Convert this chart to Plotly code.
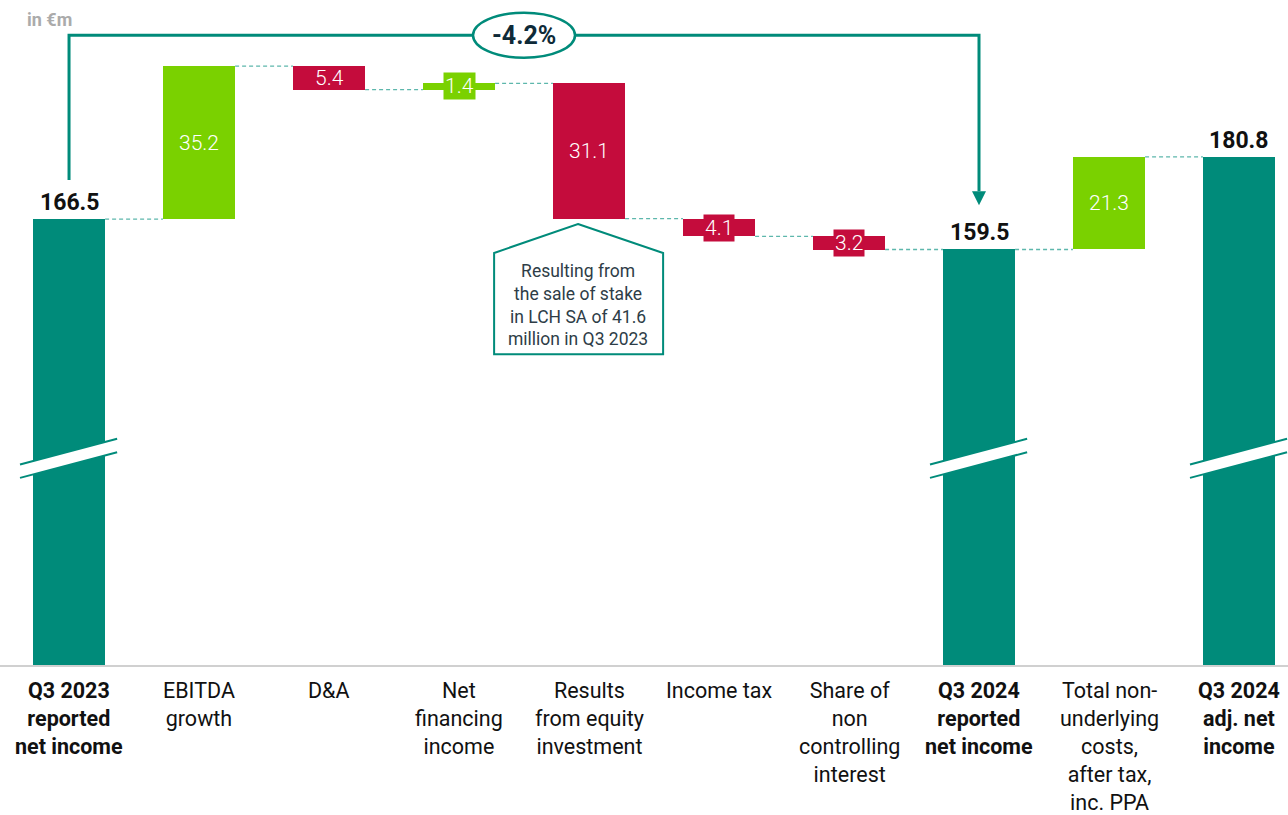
import plotly.graph_objects as go

# ---------------- data ----------------
categories = [
    "<b>Q3 2023<br>reported<br>net income</b>",
    "EBITDA<br>growth",
    "D&A",
    "Net<br>financing<br>income",
    "Results<br>from equity<br>investment",
    "Income tax",
    "Share of<br>non<br>controlling<br>interest",
    "<b>Q3 2024<br>reported<br>net income</b>",
    "Total non-<br>underlying<br>costs,<br>after tax,<br>inc. PPA",
    "<b>Q3 2024<br>adj. net<br>income</b>",
]
kinds = ["total", "delta", "delta", "delta", "delta", "delta", "delta", "total", "delta", "total"]
values = [166.5, 35.2, -5.4, 1.4, -31.1, -4.1, -3.2, 159.5, 21.3, 180.8]
change_label = "-4.2%"
callout_text = "Resulting from<br>the sale of stake<br>in LCH SA of 41.6<br>million in Q3 2023"

# ---------------- styles ----------------
TEAL = "#008B7A"
GREEN = "#7AD100"
RED = "#C40C3C"
CONN = "#5DB7AC"
FONT = "Roboto"

y_lo, y_hi = 63.9, 216.9
x_lo, x_hi = -0.531, 9.377
bar_w = 0.555
px_per_unit = 665 / (y_hi - y_lo)

xs = list(range(len(values)))
bases, heights, colors, tops_after = [], [], [], []
running = 0.0
for k, v in zip(kinds, values):
    if k == "total":
        bases.append(0)
        heights.append(v)
        colors.append(TEAL)
        running = v
    else:
        if v >= 0:
            bases.append(running)
            colors.append(GREEN)
        else:
            bases.append(running + v)
            colors.append(RED)
        heights.append(abs(v))
        running += v
    tops_after.append(running)

fig = go.Figure()
fig.add_trace(go.Bar(
    x=xs, y=heights, base=bases, width=bar_w,
    marker=dict(color=colors, line=dict(width=0)),
    hoverinfo="skip", showlegend=False,
))

shapes = []
annotations = []

# connectors
for i in range(len(values) - 1):
    lvl = tops_after[i]
    if kinds[i + 1] == "total":
        lvl = values[i + 1] if abs(values[i + 1] - lvl) < 1 else lvl
    shapes.append(dict(type="line", xref="x", yref="y",
                       x0=i + bar_w / 2, x1=i + 1 - bar_w / 2, y0=lvl, y1=lvl,
                       line=dict(color=CONN, width=1.3, dash="4px,3px"), layer="below"))

# labels
for i, (k, v) in enumerate(zip(kinds, values)):
    if k == "total":
        annotations.append(dict(x=i, y=v, xref="x", yref="y", yanchor="bottom",
                                text=f"<b>{v:.1f}</b>", showarrow=False, yshift=1,
                                font=dict(family=FONT, size=23, color="#111111")))
    else:
        mid = bases[i] + heights[i] / 2
        small = heights[i] < 5.0
        annotations.append(dict(x=i, y=mid, xref="x", yref="y",
                                text=f"{abs(v):.1f}", showarrow=False,
                                bgcolor=colors[i] if small else None,
                                borderpad=1,
                                font=dict(family=FONT, size=21, color="white", weight=300)))

# category labels
for i, c in enumerate(categories):
    annotations.append(dict(x=i, y=0, xref="x", yref="paper", yanchor="top",
                            yshift=-11, text=c, showarrow=False,
                            font=dict(family=FONT, size=21.5, color="#111111")))

# axis breaks on total bars
brk_l, brk_r, half = 108.5, 114.4, 1.55
for i, k in enumerate(kinds):
    if k != "total":
        continue
    xl, xr = i - 0.377, i + 0.37
    shapes.append(dict(type="path", xref="x", yref="y",
                       path=f"M {xl},{brk_l-half} L {xr},{brk_r-half} L {xr},{brk_r+half} L {xl},{brk_l+half} Z",
                       fillcolor="white", line=dict(width=0)))
    for s in (-half, half):
        shapes.append(dict(type="line", xref="x", yref="y",
                           x0=xl, y0=brk_l + s, x1=xr, y1=brk_r + s,
                           line=dict(color=TEAL, width=2)))

# change bracket
i0, i1 = 0, kinds.index("total", 1)
top_lvl = 208.8
start_lvl = 175.5
tip_lvl = 169.7
arrow_h = 14 / px_per_unit
arrow_hw = 7 / 130
shapes.append(dict(type="path", xref="x", yref="y",
                   path=f"M {i0},{start_lvl} L {i0},{top_lvl} L {i1},{top_lvl} L {i1},{tip_lvl + arrow_h}",
                   line=dict(color=TEAL, width=3)))
shapes.append(dict(type="path", xref="x", yref="y",
                   path=f"M {i1-arrow_hw},{tip_lvl+arrow_h} L {i1+arrow_hw},{tip_lvl+arrow_h} L {i1},{tip_lvl} Z",
                   fillcolor=TEAL, line=dict(width=0)))
cx = (i0 + i1) / 2
rx, ry = 51 / 130, 22.5 / px_per_unit
shapes.append(dict(type="circle", xref="x", yref="y",
                   x0=cx - rx, x1=cx + rx, y0=top_lvl - ry, y1=top_lvl + ry,
                   fillcolor="white", line=dict(color=TEAL, width=2.5)))
annotations.append(dict(x=cx, y=top_lvl, xref="x", yref="y", text=f"<b>{change_label}</b>",
                        showarrow=False, font=dict(family=FONT, size=25, color="#0E2A38")))

# callout pentagon under equity bar
px0, px1, apx = 3.27, 4.57, 3.915
ap_y, sh_y, bt_y = 165.35, 158.7, 135.4
shapes.append(dict(type="path", xref="x", yref="y",
                   path=f"M {apx},{ap_y} L {px1},{sh_y} L {px1},{bt_y} L {px0},{bt_y} L {px0},{sh_y} Z",
                   fillcolor="white", line=dict(color=TEAL, width=2)))
annotations.append(dict(x=apx, y=146.8, xref="x", yref="y", text=callout_text,
                        showarrow=False, font=dict(family=FONT, size=17.5, color="#2E3D47")))

# unit label
annotations.append(dict(xref="paper", yref="paper", x=0.0195, y=1.0, yanchor="middle",
                        xanchor="left", yshift=-19, text="<b>in €m</b>", showarrow=False,
                        font=dict(family=FONT, size=18, color="#ABABAB")))

fig.update_layout(
    width=1288, height=815,
    margin=dict(l=0, r=0, t=0, b=150),
    paper_bgcolor="white", plot_bgcolor="white",
    bargap=0,
    xaxis=dict(range=[x_lo, x_hi], showgrid=False, zeroline=False, showticklabels=False,
               showline=True, linecolor="#D0D0D0", linewidth=2, ticks="", fixedrange=True),
    yaxis=dict(range=[y_lo, y_hi], showgrid=False, zeroline=False, showticklabels=False,
               showline=False, ticks="", fixedrange=True),
    shapes=shapes, annotations=annotations,
)

fig.write_html("out.html", config={"displayModeBar": False},
               post_script="document.body.style.margin='0';document.body.style.overflow='hidden';")
